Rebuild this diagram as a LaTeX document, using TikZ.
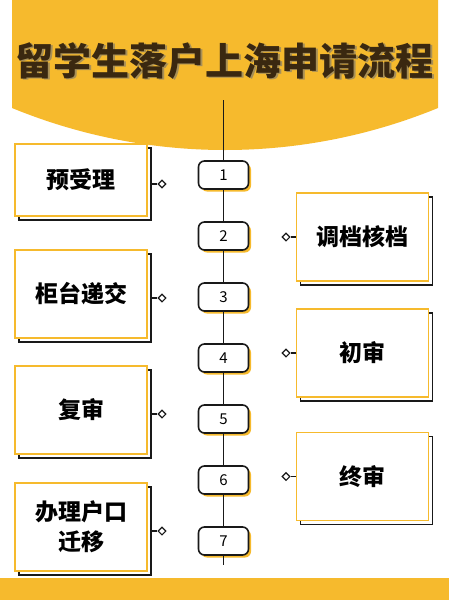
\documentclass[tikz,border=0pt]{standalone}
\usepackage{fontspec}
\setmainfont{Noto Sans CJK SC}
\usetikzlibrary{shapes.geometric,positioning}
\definecolor{gold}{HTML}{F6BA2D}
\definecolor{titlebrown}{HTML}{3A2810}
\tikzset{
  spine/.style={line width=1.6pt, black!90},
  numbox/.style={draw=black!90, line width=1.6pt, fill=white, rounded corners=6pt,
    minimum width=50pt, minimum height=28pt, inner sep=0pt, font=\fontsize{15}{17}\selectfont},
  numshade/.style={fill=gold, rounded corners=6pt, minimum width=50pt, minimum height=28pt, inner sep=0pt},
  stepbox/.style={draw=gold, line width=1.5pt, fill=white, minimum width=132pt, inner sep=0pt,
    align=center, font=\fontsize{23}{30}\selectfont\bfseries},
  stepshade/.style={draw=black!90, line width=1.4pt, fill=white, minimum width=132pt, inner sep=0pt},
  link/.style={line width=1.2pt, black!90},
  joint/.style={diamond, draw=black!90, line width=1.1pt, fill=white, inner sep=0pt, minimum size=8pt}
}

\begin{document}
\begin{tikzpicture}[x=1pt,y=-1pt]
  \useasboundingbox (0,0) rectangle (449,600);

  % yellow header and footer
  \fill[gold] (12,0) -- (438,0) -- (438,108)
    .. controls (301.5,164) and (148.5,164) .. (12,108) -- cycle;
  \fill[gold] (0,578) rectangle (449,600);

  \node[font=\fontsize{38}{44}\selectfont\bfseries, text=black!55, opacity=0.6] (titleshade) at (226.5,62.5) {留学生落户上海申请流程};
  \node[font=\fontsize{38}{44}\selectfont\bfseries, text=titlebrown] (title) at (225,61) {留学生落户上海申请流程};

  % numbered spine
  \coordinate (top) at (223.5,100);
  \coordinate (bottom) at (223.5,565);
  \foreach \i in {1,...,7} {
    \pgfmathsetmacro{\y}{175+61*(\i-1)}
    \node[numshade] at (226,\y+2.5) {};
    \node[numbox] (n\i) at (223.5,\y) {\i};
  }
  \draw[spine] (top) -- (n1);
  \foreach \i [evaluate=\i as \j using int(\i+1)] in {1,...,6}
    \draw[spine] (n\i) -- (n\j);
  \draw[spine] (n7) -- (bottom);

  % left steps
  \foreach \nm/\cy/\hgt/\txt in {pre/180/72/预受理, desk/294/88/柜台递交,
      rev/410/88/复审, move/527/88/{办理户口\\迁移}} {
    \node[stepshade, minimum height=\hgt pt] (\nm s) at (85,\cy+4) {};
    \node[stepbox, minimum height=\hgt pt] (\nm) at (81,\cy) {\txt};
    \node[joint] (j\nm) at (162,\cy+4) {};
    \draw[link] (\nm s.east) -- (j\nm);
  }

  % right steps
  \foreach \nm/\cy/\txt in {file/237/调档核档, first/353/初审, final/476.5/终审} {
    \node[stepshade, minimum height=88pt] (\nm s) at (366.5,\cy+4) {};
    \node[stepbox, minimum height=88pt] (\nm) at (362.5,\cy) {\txt};
    \node[joint] (j\nm) at (286,\cy) {};
    \draw[link] (j\nm) -- (\nm.west);
  }
\end{tikzpicture}
\end{document}
